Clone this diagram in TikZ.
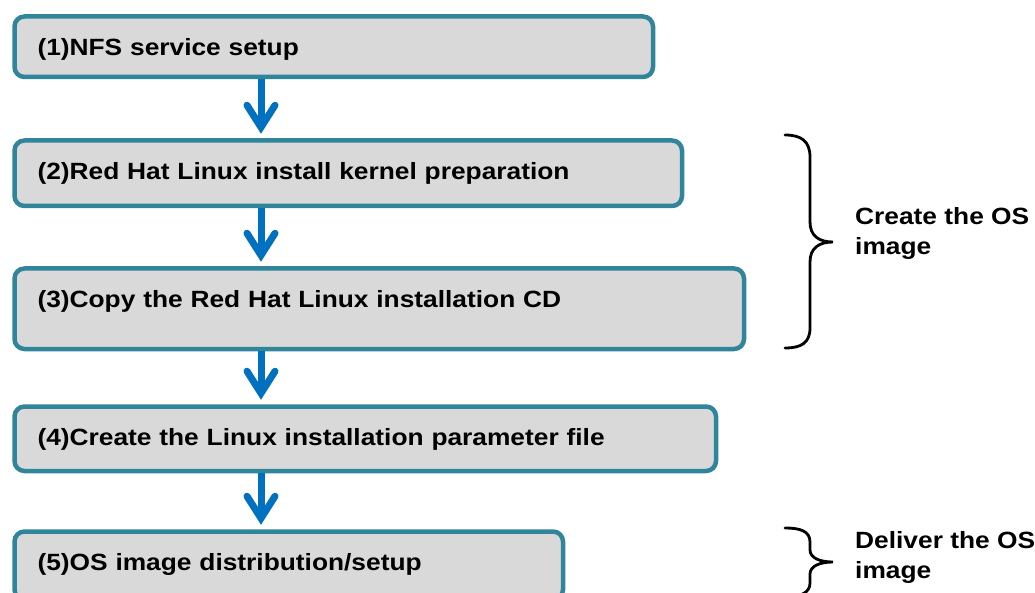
\documentclass[tikz,border=0pt]{standalone}
\usepackage{fontspec}
\setmainfont{Liberation Sans}[FakeStretch=1.12]
\usetikzlibrary{calc}
\definecolor{boxborder}{RGB}{49,133,155}
\definecolor{boxfill}{RGB}{217,217,217}
\definecolor{arrowblue}{RGB}{0,112,192}
\tikzset{
  stepbox/.style={draw=boxborder, line width=4.5pt, fill=boxfill,
    rounded corners=10pt, anchor=north west, inner xsep=23pt, inner ysep=0pt,
    text height=39pt, align=left,
    font=\fontsize{23.5pt}{28pt}\selectfont\bfseries},
  shaft/.style={draw=arrowblue, line width=7pt},
  chevron/.style={draw=arrowblue, line width=7pt, line cap=round, line join=miter},
  bracepath/.style={draw=black, line width=2.8pt, line cap=round},
  bracelabel/.style={anchor=base west, inner sep=0pt, align=left,
    font=\fontsize{23.5pt}{30pt}\selectfont\bfseries}
}
\newcommand{\flowarrow}[2]{%
  \coordinate (tipv) at ($(#2.north -| ax)+(0,-11)$);
  \draw[shaft] (#1.south -| ax) -- (tipv);
  \draw[chevron] ($(tipv)+(-14,-22)$) -- (tipv) -- ($(tipv)+(14,-22)$);
}
\begin{document}
\begin{tikzpicture}[x=1pt,y=-1pt]
\useasboundingbox (0,0) rectangle (1035,593);
\clip (0,0) rectangle (1035,593);
\coordinate (ax) at (261,0);

\node[stepbox, text width=592.5pt, text depth=21.5pt] (b1) at (12.25,14.25) {(1)NFS service setup};
\node[stepbox, text width=621.5pt, text depth=26.5pt] (b2) at (12.25,138.25) {(2)Red Hat Linux install kernel preparation};
\node[stepbox, text width=683.5pt, text depth=41.5pt] (b3) at (12.25,266.25) {(3)Copy the Red Hat Linux installation CD};
\node[stepbox, text width=655.5pt, text depth=25.5pt] (b4) at (12.25,404.25) {(4)Create the Linux installation parameter file};
\node[stepbox, text width=502.5pt, text depth=29pt] (b5) at (12.25,529.25) {(5)OS image distribution/setup};

\flowarrow{b1}{b2}
\flowarrow{b2}{b3}
\flowarrow{b3}{b4}
\flowarrow{b4}{b5}

% braces
\draw[bracepath] (785,135) .. controls (801,135) and (810,141) .. (810,157)
  -- (810,222) .. controls (810,236) and (819,242) .. (833,242)
  .. controls (819,242) and (810,248) .. (810,262)
  -- (810,328) .. controls (810,343) and (801,348) .. (785,348);
\node[bracelabel] (l1) at (855,255) {Create the OS\\image};

\draw[bracepath] (785,528) .. controls (800,528) and (810,531) .. (810,542)
  -- (810,550) .. controls (810,558) and (820,562) .. (833,562)
  .. controls (820,562) and (810,566) .. (810,574)
  -- (810,583) .. controls (810,593) and (800,597) .. (785,597);
\node[bracelabel] (l2) at (855,578) {Deliver the OS\\image};
\end{tikzpicture}
\end{document}
